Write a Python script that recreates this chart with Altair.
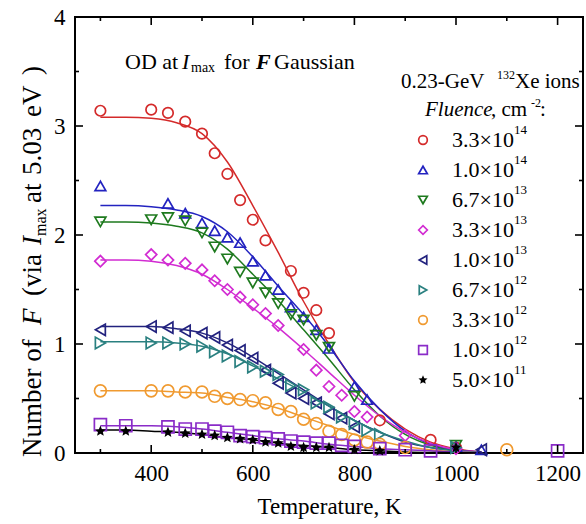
import altair as alt
import pandas as pd

SERIF = "Liberation Serif"

# ---------------- data ----------------
series = ["3.3e14", "1.0e14", "6.7e13", "3.3e13", "1.0e13", "6.7e12", "3.3e12", "1.0e12", "5.0e11"]
mantissa = ["3.3×10", "1.0×10", "6.7×10", "3.3×10", "1.0×10", "6.7×10", "3.3×10", "1.0×10", "5.0×10"]
exponent = ["14", "14", "13", "13", "13", "12", "12", "12", "11"]
colors = ["#d42a2a", "#2323c0", "#1e7a1e", "#d22cd2", "#22227e", "#2a8080", "#f09a30", "#8a2cc8", "#000000"]

T_red = [300, 400, 433, 467, 500, 525, 550, 575, 600, 625, 675, 700, 725, 750, 850, 950, 1000]
y_red = [3.14, 3.15, 3.12, 3.04, 2.93, 2.75, 2.56, 2.32, 2.14, 1.95, 1.67, 1.47, 1.31, 1.10, 0.30, 0.12, 0.05]
T_blue = [300, 433, 467, 500, 525, 550, 575, 600, 625, 650, 675, 700, 725, 750, 800, 825, 1000, 1050]
y_blue = [2.45, 2.29, 2.20, 2.11, 2.04, 1.98, 1.93, 1.76, 1.63, 1.50, 1.34, 1.25, 1.13, 0.96, 0.61, 0.49, 0.06, 0.03]
T_green = [300, 400, 433, 467, 500, 525, 550, 575, 600, 625, 650, 675, 700, 725, 750, 800, 1000]
y_green = [2.12, 2.14, 2.16, 2.13, 2.02, 1.89, 1.78, 1.66, 1.56, 1.47, 1.37, 1.27, 1.22, 1.08, 0.97, 0.52, 0.07]
T_mag = [300, 400, 433, 467, 500, 525, 550, 575, 600, 625, 650, 700, 725, 750, 775, 800, 825, 900, 1000]
y_mag = [1.76, 1.82, 1.77, 1.74, 1.68, 1.58, 1.50, 1.43, 1.36, 1.28, 1.17, 0.95, 0.76, 0.61, 0.53, 0.38, 0.33, 0.16, 0.04]
T_navy = [300, 400, 433, 467, 500, 525, 550, 575, 600, 625, 650, 675, 700, 725, 750, 775, 800, 1050]
y_navy = [1.13, 1.16, 1.15, 1.12, 1.10, 1.06, 0.99, 0.94, 0.87, 0.76, 0.64, 0.55, 0.50, 0.46, 0.36, 0.32, 0.24, 0.03]
T_teal = [300, 400, 433, 467, 500, 525, 550, 575, 600, 625, 650, 675, 700, 725, 750, 775, 800, 825, 850, 1000]
y_teal = [1.01, 1.01, 1.01, 1.00, 0.98, 0.93, 0.89, 0.84, 0.79, 0.75, 0.72, 0.62, 0.58, 0.46, 0.42, 0.33, 0.27, 0.21, 0.17, 0.05]
T_orange = [300, 400, 433, 467, 500, 525, 550, 575, 600, 625, 650, 675, 700, 725, 750, 775, 800, 825, 850, 900, 1100]
y_orange = [0.57, 0.57, 0.57, 0.56, 0.56, 0.52, 0.50, 0.49, 0.48, 0.46, 0.40, 0.38, 0.31, 0.27, 0.20, 0.17, 0.12, 0.10, 0.08, 0.05, 0.03]
T_purple = [300, 350, 433, 467, 500, 525, 550, 575, 600, 625, 650, 675, 700, 725, 750, 775, 800, 850, 900, 950, 1200]
y_purple = [0.26, 0.25, 0.24, 0.22, 0.22, 0.20, 0.19, 0.16, 0.15, 0.14, 0.13, 0.11, 0.10, 0.09, 0.09, 0.07, 0.06, 0.04, 0.03, 0.02, 0.02]
T_black = [300, 350, 433, 467, 500, 525, 550, 575, 600, 625, 650, 675, 700, 725, 750, 800, 850, 1000]
y_black = [0.20, 0.20, 0.19, 0.18, 0.17, 0.16, 0.14, 0.13, 0.12, 0.10, 0.09, 0.06, 0.05, 0.05, 0.05, 0.03, 0.02, 0.05]

fit_T = [300, 350, 400, 450, 500, 550, 600, 650, 700, 750, 800, 850, 900, 950, 1000, 1050]
fit_red = [3.08, 3.08, 3.07, 3.03, 2.93, 2.67, 2.27, 1.84, 1.39, 1.00, 0.65, 0.40, 0.22, 0.10, 0.04, 0.01]
fit_blue = [2.27, 2.27, 2.26, 2.23, 2.17, 2.03, 1.80, 1.53, 1.27, 0.98, 0.66, 0.40, 0.20, 0.08, 0.03, 0.01]
fit_green = [2.12, 2.12, 2.11, 2.08, 2.02, 1.87, 1.64, 1.40, 1.13, 0.86, 0.58, 0.34, 0.17, 0.07, 0.02, 0.005]
fit_mag = [1.77, 1.77, 1.76, 1.72, 1.64, 1.50, 1.33, 1.15, 0.95, 0.74, 0.53, 0.34, 0.19, 0.09, 0.03, 0.01]
fit_navy = [1.16, 1.16, 1.16, 1.14, 1.10, 1.01, 0.88, 0.73, 0.58, 0.43, 0.30, 0.19, 0.10, 0.05, 0.02, 0.005]
fit_teal = [1.02, 1.02, 1.02, 1.01, 0.98, 0.91, 0.80, 0.68, 0.56, 0.43, 0.30, 0.19, 0.11, 0.05, 0.02, 0.005]
fit_orange = [0.57, 0.57, 0.57, 0.56, 0.55, 0.51, 0.47, 0.41, 0.33, 0.25, 0.17, 0.11, 0.06, 0.03, 0.01, 0.005]
fit_purple = [0.25, 0.25, 0.25, 0.24, 0.22, 0.19, 0.16, 0.13, 0.11, 0.08, 0.06, 0.04, 0.03, 0.02, 0.01, 0.005]
fit_black = [0.21, 0.21, 0.20, 0.19, 0.17, 0.14, 0.12, 0.09, 0.07, 0.05, 0.03, 0.02, 0.01, 0.005, 0.003, 0.001]

x_major = [400, 600, 800, 1000, 1200]
x_minor = [300, 500, 700, 900, 1100]
y_major = [1, 2, 3]
y_minor = [0.5, 1.5, 2.5, 3.5]

# ---------------- tables ----------------
pts_T = [T_red, T_blue, T_green, T_mag, T_navy, T_teal, T_orange, T_purple, T_black]
pts_y = [y_red, y_blue, y_green, y_mag, y_navy, y_teal, y_orange, y_purple, y_black]
fits = [fit_red, fit_blue, fit_green, fit_mag, fit_navy, fit_teal, fit_orange, fit_purple, fit_black]

pts = pd.DataFrame([{"series": s, "T": t, "v": v}
                    for s, ts, vs in zip(series, pts_T, pts_y) for t, v in zip(ts, vs)])
fit = pd.DataFrame([{"series": s, "T": t, "v": v}
                    for s, vs in zip(series, fits) for t, v in zip(fit_T, vs)])

W, H = 508, 436
XD, YD = [250, 1250], [0, 4]

STAR = ("M0,-1L0.265,-0.364L0.951,-0.309L0.428,0.139L0.588,0.809L0,0.45"
        "L-0.588,0.809L-0.428,0.139L-0.951,-0.309L-0.265,-0.364Z")
shapes = ["circle", "triangle-up", "triangle-down", "diamond", "triangle-left",
          "triangle-right", "circle", "square", STAR]
sizes = [110, 150, 150, 150, 150, 150, 110, 80, 130]

cscale = alt.Scale(domain=series, range=colors)
sscale = alt.Scale(domain=series, range=shapes)
zscale = alt.Scale(domain=series, range=sizes)

xaxis = alt.Axis(values=x_major, format="d", tickSize=0, domain=False, grid=False,
                 labelFont=SERIF, labelFontSize=23, labelColor="black", labelPadding=9,
                 title="Temperature, K", titleFont=SERIF, titleFontSize=23,
                 titleFontWeight="normal", titleColor="black", titlePadding=10)
yaxis = alt.Axis(values=[0, 1, 2, 3, 4], format="d", tickSize=0, domain=False, grid=False,
                 labelFont=SERIF, labelFontSize=23, labelColor="black", labelPadding=10,
                 title=None)


def X(field="T"):
    return alt.X(f"{field}:Q", scale=alt.Scale(domain=XD, nice=False, zero=False), axis=xaxis)


def Y(field="v"):
    return alt.Y(f"{field}:Q", scale=alt.Scale(domain=YD, nice=False), axis=yaxis)


def px2T(px):
    return XD[0] + px / W * (XD[1] - XD[0])


def px2v(py):
    return YD[1] - py / H * (YD[1] - YD[0])


lines = alt.Chart(fit).mark_line(strokeWidth=1.5, interpolate="monotone").encode(
    x=X(), y=Y(),
    color=alt.Color("series:N", scale=cscale, legend=None),
    detail="series:N")

points = alt.Chart(pts).transform_filter(alt.datum.series != "5.0e11").mark_point(
    filled=False, strokeWidth=1.7, opacity=1).encode(
    x=X(), y=Y(),
    color=alt.Color("series:N", scale=cscale, legend=None),
    shape=alt.Shape("series:N", scale=sscale, legend=None),
    size=alt.Size("series:N", scale=zscale, legend=None))

stars = alt.Chart(pts).transform_filter(alt.datum.series == "5.0e11").mark_point(
    filled=True, shape=STAR, size=130, color="black", opacity=1).encode(x=X(), y=Y())

# inward ticks on all four sides
tick_layers = []
for vals, ln in [(x_major, 8), (x_minor, 4)]:
    d = pd.DataFrame({"T": vals})
    tick_layers.append(alt.Chart(d).mark_rule(color="black", strokeWidth=1.6).encode(
        x=X(), y=alt.value(H), y2=alt.value(H - ln)))
    tick_layers.append(alt.Chart(d).mark_rule(color="black", strokeWidth=1.6).encode(
        x=X(), y=alt.value(0), y2=alt.value(ln)))
for vals, ln in [(y_major, 8), (y_minor, 4)]:
    d = pd.DataFrame({"v": vals})
    tick_layers.append(alt.Chart(d).mark_rule(color="black", strokeWidth=1.6).encode(
        y=Y(), x=alt.value(0), x2=alt.value(ln)))
    tick_layers.append(alt.Chart(d).mark_rule(color="black", strokeWidth=1.6).encode(
        y=Y(), x=alt.value(W), x2=alt.value(W - ln)))


def ann(text, x, y, size=22, style="normal", weight="normal", angle=0, baseline="middle"):
    return alt.Chart(pd.DataFrame({"t": [text]})).mark_text(
        text=text, font=SERIF, fontSize=size, fontStyle=style, fontWeight=weight,
        align="left", baseline=baseline, angle=angle, color="black").encode(
        x=alt.value(x), y=alt.value(y))


# legend rows (positions derived from row index)
row_y = [123 + 30 * i for i in range(len(series))]
leg = pd.DataFrame({
    "series": series,
    "mant": mantissa,
    "exp": exponent,
    "T": [px2T(348)] * len(series),
    "Tm": [px2T(377)] * len(series),
    "Te": [px2T(439)] * len(series),
    "v": [px2v(r) for r in row_y],
    "ve": [px2v(r - 10) for r in row_y],
})
leg_pts = alt.Chart(leg).transform_filter(alt.datum.series != "5.0e11").mark_point(
    filled=False, strokeWidth=1.7, size=75, opacity=1).encode(
    x=X(), y=Y(),
    color=alt.Color("series:N", scale=cscale, legend=None),
    shape=alt.Shape("series:N", scale=sscale, legend=None))
leg_star = alt.Chart(leg).transform_filter(alt.datum.series == "5.0e11").mark_point(
    filled=True, shape=STAR, size=90, color="black", opacity=1).encode(x=X(), y=Y())
leg_mant = alt.Chart(leg).mark_text(font=SERIF, fontSize=22, align="left", baseline="middle",
                                    color="black").encode(x=X("Tm"), y=Y(), text="mant:N")
leg_exp = alt.Chart(leg).mark_text(font=SERIF, fontSize=13, align="left", baseline="middle",
                                   color="black").encode(x=X("Te"), y=Y("ve"), text="exp:N")

texts = [
    # header of legend
    ann("0.23-GeV", 326, 65, size=21),
    ann("132", 422, 58, size=12),
    ann("Xe ions", 440, 65, size=21),
    ann("Fluence", 350, 93, size=21, style="italic"),
    ann(", cm", 416, 93, size=21),
    ann("-2", 456, 86, size=12),
    ann(":", 465, 93, size=21),
    # panel title
    ann("OD at", 50, 45, size=22),
    ann("I", 107, 45, size=22, style="italic"),
    ann("max", 116, 51, size=14),
    ann("for", 149, 45, size=22),
    ann("F", 181, 45, size=22, style="italic", weight="bold"),
    ann("Gaussian", 199, 45, size=22),
    # y-axis title (rotated pieces)
    ann("Number of", -42, 440, size=27, angle=270),
    ann("F", -42, 308, size=27, style="italic", angle=270),
    ann("(via", -42, 279, size=27, angle=270),
    ann("I", -42, 228, size=27, style="italic", angle=270),
    ann("max", -34, 219, size=16, angle=270),
    ann("at", -42, 186, size=27, angle=270),
    ann("5.03", -42, 158, size=27, angle=270),
    ann("eV", -42, 100, size=27, angle=270),
    ann(")", -42, 58, size=27, angle=270),
]

chart = alt.layer(lines, points, stars, *tick_layers, leg_pts, leg_star, leg_mant, leg_exp,
                  *texts).properties(
    width=W, height=H,
    autosize=alt.AutoSizeParams(type="none"),
    padding={"left": 75, "top": 17, "right": 3, "bottom": 71},
    background="white",
).configure_view(stroke="black", strokeWidth=2)

chart.save("out.html", embed_options={"renderer": "svg", "actions": False})
